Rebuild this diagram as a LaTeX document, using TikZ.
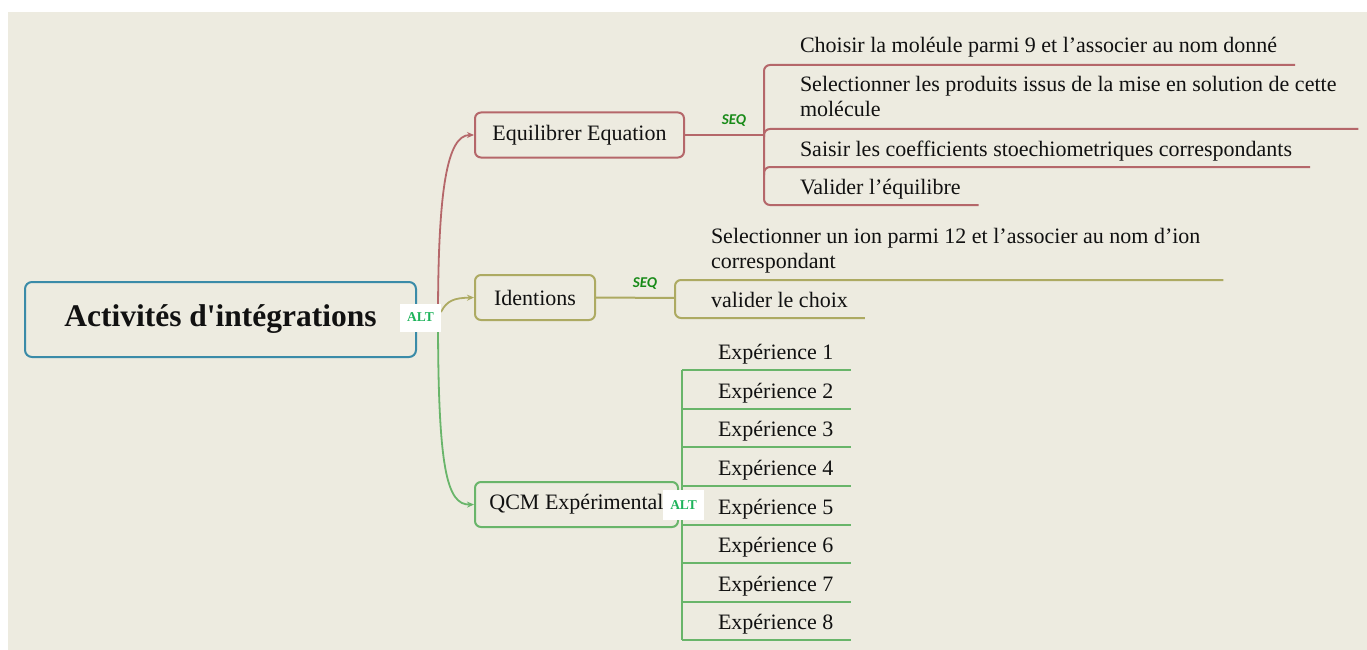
\documentclass[tikz,border=0pt]{standalone}
\usepackage{fontspec}
\setmainfont{Liberation Serif}
\newfontfamily\seqfont{Carlito}
\usetikzlibrary{calc,arrows.meta}

\definecolor{bg}{HTML}{EDEBE0}
\definecolor{rootc}{HTML}{3A8BA8}
\definecolor{redc}{HTML}{B5676A}
\definecolor{olivec}{HTML}{ADAA62}
\definecolor{greenc}{HTML}{69B56A}
\definecolor{seqc}{HTML}{178A17}
\definecolor{altc}{HTML}{1DB35A}
\definecolor{ink}{HTML}{111111}

\tikzset{
  topic/.style={draw, rounded corners=6, inner sep=0, minimum height=45,
    text=ink, font=\fontsize{22}{25}\selectfont},
  item/.style={anchor=base west, inner sep=0, align=left, text=ink,
    font=\fontsize{22}{25}\selectfont},
  seqlabel/.style={text=seqc, inner sep=0, font=\seqfont\fontsize{15}{15}\selectfont\bfseries\itshape},
  altlabel/.style={fill=white, minimum width=41, minimum height=28, inner sep=0,
    text=altc, font=\fontsize{13.5}{13.5}\selectfont\bfseries},
  branch/.style={line width=1.8, -{Stealth[length=7,width=6]}},
}

\begin{document}
\begin{tikzpicture}[x=1pt, y=-1pt, line width=2]
\useasboundingbox (0,0) rectangle (1367,650);
\fill[white] (0,0) rectangle (1367,650);
\fill[bg] (8,12) rectangle (1367,650);

% central topic
\node[draw=rootc, rounded corners=7, minimum width=391, minimum height=75, inner sep=0, text=ink]
  (root) at (220.5,319.5) {\fontsize{31.5}{36}\selectfont\bfseries Activités d\textquotesingle intégrations};

% main topics
\node[topic, draw=redc, minimum width=209] (eq) at (579.5,135) {Equilibrer Equation};
\node[topic, draw=olivec, minimum width=120] (id) at (535,297.5) {Identions};
\node[topic, draw=greenc, minimum width=203] (qcm) at (576.5,504.5) {QCM Expérimental};

% branches from the central topic
\coordinate (hub) at (438,318);
\coordinate (hubo) at (441,312);
\draw[branch, redc] (hub) .. controls (438,190) and (447,135) .. (eq.west);
\draw[branch, olivec] (hubo) .. controls (447,300) and (455,298) .. (id.west);
\draw[branch, greenc] (hub) .. controls (438,470) and (447,505) .. (qcm.west);
\node[altlabel] (alt1) at (420.5,317.5) {ALT};

% Equilibrer Equation: sequence of steps
\coordinate (rj0) at (764,135);
\coordinate (rj1) at (764,65);
\coordinate (rj2) at (764,129);
\coordinate (rj3) at (764,167);
\coordinate (rj4) at (764,205);
\draw[redc] (eq.east) -- (rj0);
\node[seqlabel] (seq1) at (734,121) {SEQ};
\node[item] (r1) at (799,53) {Choisir la moléule parmi 9 et l’associer au nom donné};
\node[item] (r2) at (799,117) {Selectionner les produits issus de la mise en solution de cette\\molécule};
\node[item] (r3) at (799,156) {Saisir les coefficients stoechiometriques correspondants};
\node[item] (r4) at (799,194) {Valider l’équilibre};
\draw[redc, rounded corners=6] ([xshift=17]rj1 -| r1.east) -- (rj1) -- (rj4) -- ([xshift=17]rj4 -| r4.east);
\draw[redc, rounded corners=6] ([yshift=-8]rj2) -- (rj2) -- ([xshift=21]rj2 -| r2.east);
\draw[redc, rounded corners=6] ([yshift=-8]rj3) -- (rj3) -- ([xshift=17]rj3 -| r3.east);

% Identions: sequence of steps
\coordinate (oj0) at (675,298);
\coordinate (oj1) at (675,280);
\coordinate (oj2) at (675,318);
\draw[olivec] (id.east) -- (oj0);
\node[seqlabel] (seq2) at (645,284) {SEQ};
\node[item] (o1) at (710,268) {Selectionner un ion parmi 12 et l’associer au nom d’ion\\correspondant};
\node[item] (o2) at (710,307) {valider le choix};
\draw[olivec, rounded corners=6] ([xshift=22]oj1 -| o1.east) -- (oj1) -- (oj2) -- ([xshift=16]oj2 -| o2.east);

% QCM Expérimental: alternatives
\coordinate (gj0) at (682,505);
\draw[greenc] (qcm.east) -- (gj0);
\foreach \k/\y in {1/370,2/409,3/447,4/486,5/525,6/563,7/602,8/640}{
  \coordinate (gj\k) at (682,\y);
  \node[item] (g\k) at (717,\y-11) {Expérience \k};
  \draw[greenc] (gj\k) -- ([xshift=17]gj\k -| g\k.east);
}
\draw[greenc] (gj1) -- (gj8);
\node[altlabel, minimum height=30] (alt2) at (683.5,505) {ALT};
\end{tikzpicture}
\end{document}
